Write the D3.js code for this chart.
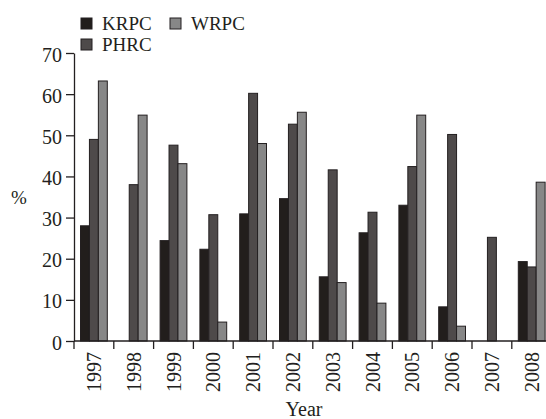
<!DOCTYPE html>
<html>
<head>
<meta charset="utf-8">
<script src="https://cdn.jsdelivr.net/npm/d3@7/dist/d3.min.js"></script>
<style>
  html, body { margin: 0; padding: 0; background: #fff; }
  svg { display: block; font-family: "Liberation Serif", "Times New Roman", serif; }
</style>
</head>
<body>
<svg id="chart" width="546" height="419"></svg>
<script>
// Annual share (%) for each river basin organisation
const years = ["1997","1998","1999","2000","2001","2002","2003","2004","2005","2006","2007","2008"];
const series = ["KRPC", "PHRC", "WRPC"];
const krpc = [28, 0, 24.4, 22.3, 30.9, 34.6, 15.6, 26.3, 33.0, 8.3, 0, 19.3];
const phrc = [49, 38, 47.6, 30.7, 60.2, 52.7, 41.6, 31.3, 42.4, 50.2, 25.2, 18.0];
const wrpc = [63.2, 54.9, 43.1, 4.6, 48.0, 55.6, 14.2, 9.2, 54.9, 3.6, 0, 38.6];
const yTicks = [0, 10, 20, 30, 40, 50, 60, 70];
const colors = ["#221e1c", "#4e4a4a", "#878787"];

const valuesBySeries = [krpc, phrc, wrpc];
const rows = years.map((y, i) => ({ year: y, values: series.map((s, j) => ({ key: s, value: valuesBySeries[j][i] })) }));

const svg = d3.select("#chart");
const ink = "#231f20";

const x = d3.scaleBand().domain(years).range([74, 74 + 12 * 39.8]).padding(0);
const xs = d3.scaleBand().domain(series).range([6.5, 33.3]).padding(0);
const y = d3.scaleLinear().domain([0, 70]).range([341, 53]);
const color = d3.scaleOrdinal().domain(series).range(colors);

// Bars
const groups = svg.append("g").selectAll("g").data(rows).join("g")
  .attr("transform", d => `translate(${x(d.year)},0)`);
groups.selectAll("rect").data(d => d.values.filter(v => v.value > 0)).join("rect")
  .attr("x", d => xs(d.key))
  .attr("width", xs.bandwidth())
  .attr("y", d => y(d.value))
  .attr("height", d => y(0) - y(d.value))
  .attr("fill", d => color(d.key))
  .attr("stroke", ink)
  .attr("stroke-width", 1);

// Y axis
const yAxis = svg.append("g").attr("transform", "translate(74,0)")
  .call(d3.axisLeft(y).tickValues(yTicks).tickSize(8).tickSizeOuter(0).tickPadding(4));
yAxis.select(".domain").attr("stroke", ink).attr("stroke-width", 1.3);
yAxis.selectAll(".tick line").attr("stroke", ink).attr("stroke-width", 1.3);
yAxis.selectAll(".tick text").attr("fill", ink).attr("font-size", 20)
  .attr("font-family", "Liberation Serif, serif").attr("dy", "0.4em");

// X axis baseline and group separators
svg.append("line").attr("x1", 74).attr("x2", 546).attr("y1", y(0)).attr("y2", y(0))
  .attr("stroke", ink).attr("stroke-width", 1.3);
svg.append("g").selectAll("line").data(years).join("line")
  .attr("x1", d => x(d)).attr("x2", d => x(d))
  .attr("y1", y(0)).attr("y2", y(0) + 8)
  .attr("stroke", ink).attr("stroke-width", 1.3);

// Year labels, rotated
svg.append("g").selectAll("text").data(years).join("text")
  .attr("transform", d => `translate(${x(d) + x.bandwidth() / 2 + 7},${y(0) + 11}) rotate(-90)`)
  .attr("text-anchor", "end")
  .attr("font-size", 20)
  .attr("fill", ink)
  .text(d => d);

// Axis titles
svg.append("text").attr("x", 304).attr("y", 416).attr("text-anchor", "middle")
  .attr("font-size", 20).attr("fill", ink).text("Year");
svg.append("text").attr("x", 19).attr("y", 204).attr("text-anchor", "middle")
  .attr("font-size", 19).attr("fill", ink).text("%");

// Legend
const legendPos = { KRPC: [81, 18], WRPC: [170, 18], PHRC: [81, 39] };
const legend = svg.append("g").selectAll("g").data(series).join("g")
  .attr("transform", d => `translate(${legendPos[d][0]},${legendPos[d][1]})`);
legend.append("rect").attr("width", 11).attr("height", 11)
  .attr("fill", d => color(d)).attr("stroke", ink).attr("stroke-width", 1);
legend.append("text").attr("x", 21).attr("y", 11.5)
  .attr("font-size", 19).attr("fill", ink).text(d => d);
</script>
</body>
</html>
